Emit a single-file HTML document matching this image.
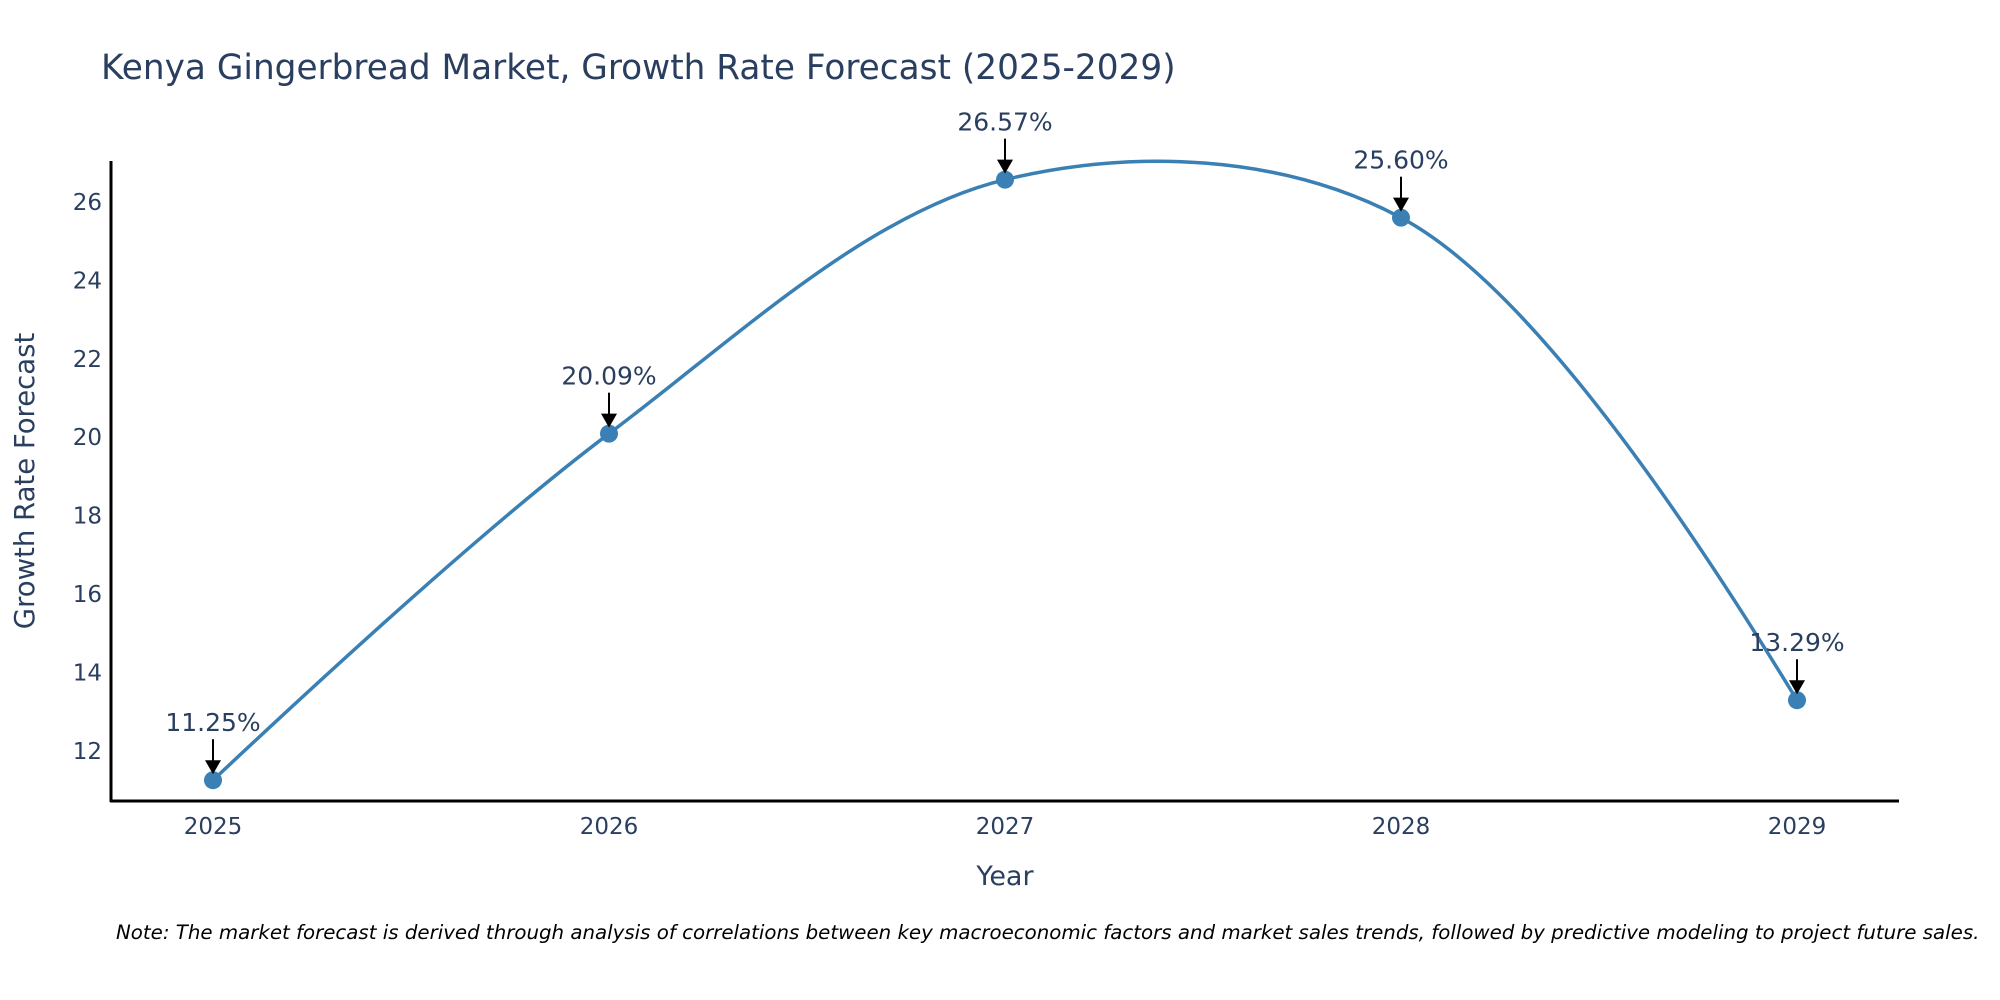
<!DOCTYPE html>
<html><head><meta charset="utf-8"><style>
html,body{margin:0;padding:0;background:#fff;width:2000px;height:1000px;overflow:hidden}
svg{display:block;font-family:"DejaVu Sans","Liberation Sans",sans-serif}
</style></head><body>
<svg id="chart" width="2000" height="1000" viewBox="0 0 2000 1000">
<text x="101" y="79" font-size="34.3" fill="#2a3f5f">Kenya Gingerbread Market, Growth Rate Forecast (2025-2029)</text>
<g id="yticks"></g>
<g id="xticks"></g>
<line x1="111" y1="161" x2="111" y2="802" stroke="#000" stroke-width="3"/>
<line x1="110" y1="801" x2="1899" y2="801" stroke="#000" stroke-width="3"/>
<text transform="translate(34,481) rotate(-90)" text-anchor="middle" font-size="27.5" fill="#2a3f5f">Growth Rate Forecast</text>
<text x="1005" y="885" text-anchor="middle" font-size="27" fill="#2a3f5f">Year</text>
<path id="line" fill="none" stroke="#3a80b4" stroke-width="3.5"/>
<g id="marks"></g>
<text x="116" y="939" font-size="19.8" font-style="italic" fill="#000">Note: The market forecast is derived through analysis of correlations between key macroeconomic factors and market sales trends, followed by predictive modeling to project future sales.</text>
</svg>
<script>
const years = [2025, 2026, 2027, 2028, 2029];
const values = [11.25, 20.09, 26.57, 25.60, 13.29];
const labels = ["11.25%", "20.09%", "26.57%", "25.60%", "13.29%"];
const yTicks = [12, 14, 16, 18, 20, 22, 24, 26];

const NS = "http://www.w3.org/2000/svg";
const X = v => 213 + (v - 2025) * (1797 - 213) / 4;
const Y = v => 202 + (26 - v) * 39.2;
function mk(tag, attrs, parent, txt){
  const e = document.createElementNS(NS, tag);
  for (const k in attrs) e.setAttribute(k, attrs[k]);
  if (txt !== undefined) e.textContent = txt;
  parent.appendChild(e); return e;
}
const yt = document.getElementById('yticks');
yTicks.forEach(t => {
  const e = mk('text', {x: 102, y: Y(t) + 8, 'text-anchor': 'end', 'font-size': 23, fill: '#2a3f5f'}, yt, t);
  
  
});
const xt = document.getElementById('xticks');
years.forEach(yr => {
  const e = mk('text', {x: X(yr), y: 834, 'text-anchor': 'middle', 'font-size': 23, fill: '#2a3f5f'}, xt, yr);
  
  
});
const pts = years.map((yr, i) => [X(yr), Y(values[i])]);
function tangent(a, b, c, s){
  const d1x = a[0]-b[0], d1y = a[1]-b[1], d2x = c[0]-b[0], d2y = c[1]-b[1];
  const d1a = Math.pow(d1x*d1x + d1y*d1y, 0.25), d2a = Math.pow(d2x*d2x + d2y*d2y, 0.25);
  const nx = (d2a*d2a*d1x - d1a*d1a*d2x) * s, ny = (d2a*d2a*d1y - d1a*d1a*d2y) * s;
  const den1 = 3*d2a*(d1a+d2a), den2 = 3*d1a*(d1a+d2a);
  return [[b[0] + nx/den1, b[1] + ny/den1], [b[0] - nx/den2, b[1] - ny/den2]];
}
const tg = [];
for (let i = 1; i < pts.length - 1; i++) tg.push(tangent(pts[i-1], pts[i], pts[i+1], 1));
const P = p => p[0] + ',' + p[1];
let d = 'M' + P(pts[0]) + ' Q' + P(tg[0][0]) + ' ' + P(pts[1]);
for (let i = 2; i < pts.length - 1; i++) d += ' C' + P(tg[i-2][1]) + ' ' + P(tg[i-1][0]) + ' ' + P(pts[i]);
d += ' Q' + P(tg[tg.length-1][1]) + ' ' + P(pts[pts.length-1]);
document.getElementById('line').setAttribute('d', d);
const mg = document.getElementById('marks');
pts.forEach((p, i) => {
  const c = mk('circle', {cx: p[0], cy: p[1], r: 9, fill: '#3a80b4'}, mg);
  
  
  const a = mk('line', {x1: p[0], y1: p[1] - 41, x2: p[0], y2: p[1] - 18, stroke: '#000', 'stroke-width': 2}, mg);
  
  
  const h = mk('polygon', {points: `${p[0]-8},${p[1]-20} ${p[0]+8},${p[1]-20} ${p[0]},${p[1]-6}`, fill: '#000'}, mg);
  
  
  const t = mk('text', {x: p[0], y: p[1] - 49, 'text-anchor': 'middle', 'font-size': 25, fill: '#2a3f5f'}, mg, labels[i]);
  
  
});
</script>
</body></html>
